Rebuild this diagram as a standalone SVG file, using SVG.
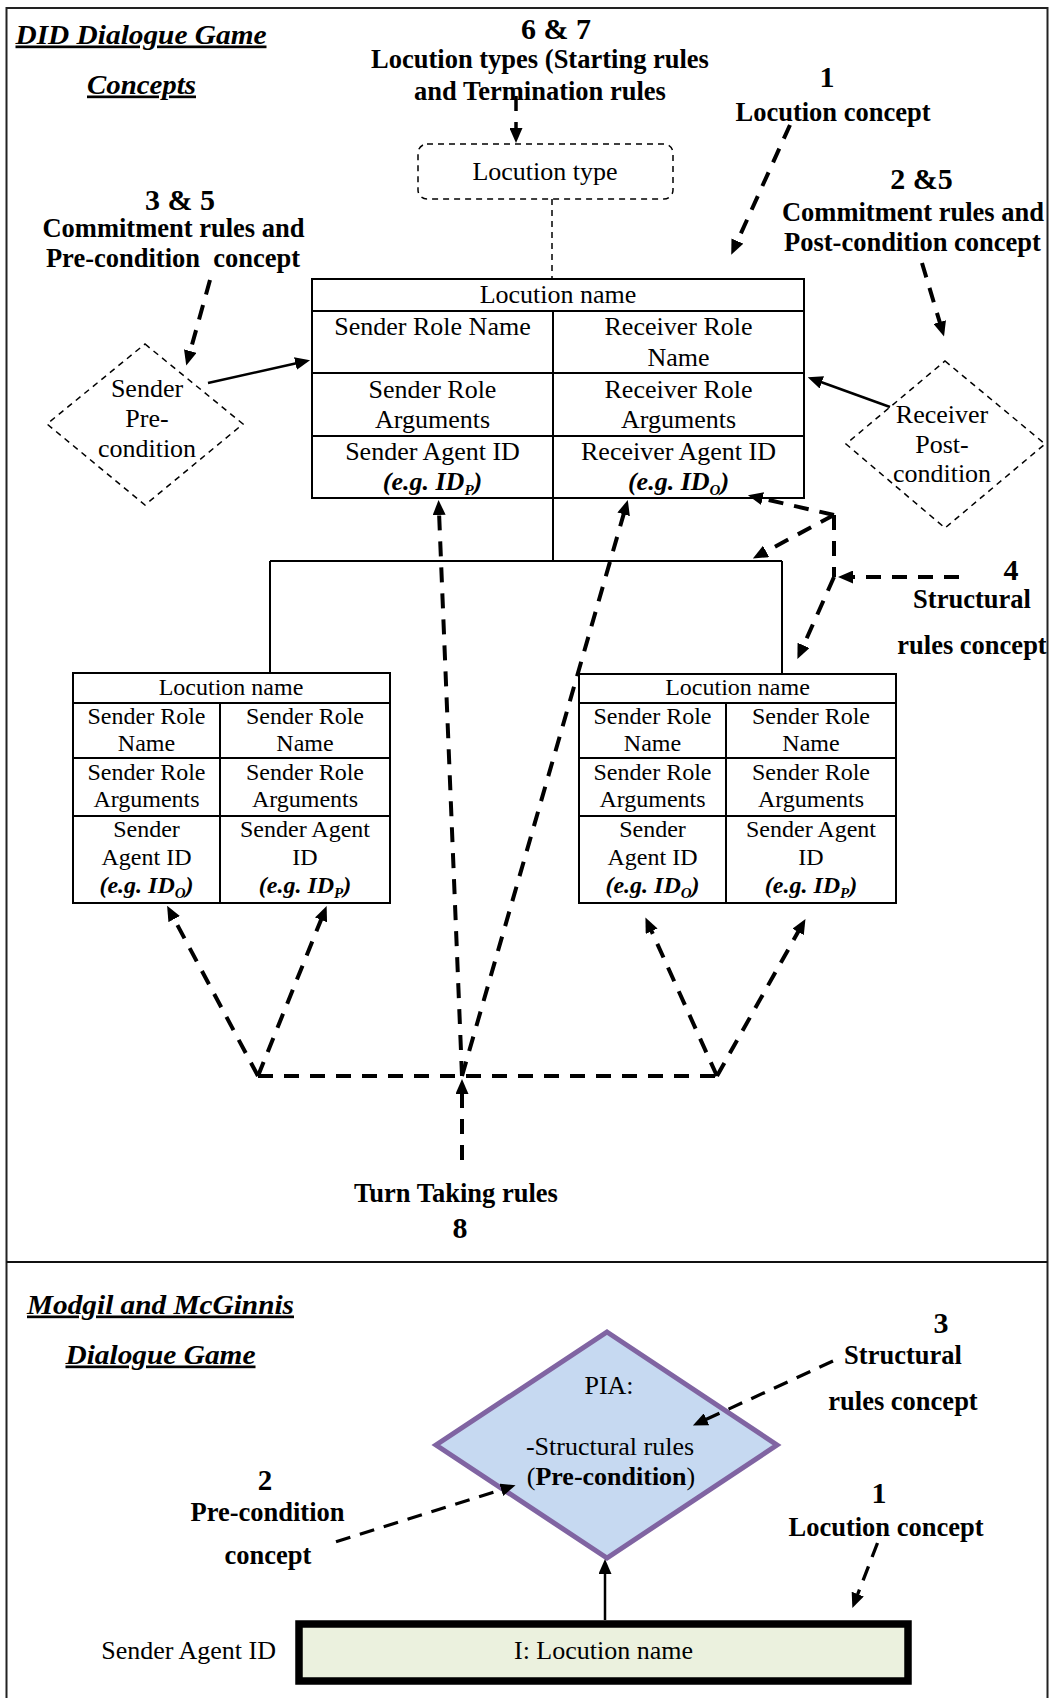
<svg xmlns="http://www.w3.org/2000/svg" width="1049" height="1698" viewBox="0 0 1049 1698">
<defs>
<marker id="ah" markerUnits="userSpaceOnUse" markerWidth="15" markerHeight="13" viewBox="0 0 15 13" refX="1" refY="6.5" orient="auto"><path d="M0,0 L15,6.5 L0,13 z" fill="#000"/></marker>
<style>
text{font-family:"Liberation Serif","Times New Roman",serif;fill:#000}
.lbl{font-size:26.5px;font-weight:bold;text-anchor:middle}
.num{font-size:30px;font-weight:bold;text-anchor:middle}
.ttl{font-size:27px;font-weight:bold;font-style:italic;text-decoration:underline}
.c{font-size:26px;text-anchor:middle}
.s{font-size:24px;text-anchor:middle}
.eg{font-weight:bold;font-style:italic}
.sub{font-size:15px}
.tbl{fill:#fff;stroke:#000;stroke-width:2}
.ln{stroke:#000;stroke-width:2;fill:none}
.thin{stroke:#000;stroke-width:1.5;fill:none;stroke-dasharray:6 5}
.dash{stroke:#000;stroke-width:4;fill:none;stroke-dasharray:15 11;marker-end:url(#ah)}
.dashn{stroke:#000;stroke-width:4;fill:none;stroke-dasharray:15 11}
.dash3{stroke:#000;stroke-width:3.3;fill:none;stroke-dasharray:15 10;marker-end:url(#ah)}
.sol{stroke:#000;stroke-width:2.5;fill:none;marker-end:url(#ah)}
</style>
</defs>
<rect width="1049" height="1698" fill="#fff"/>
<g id="frame">
<rect x="6.5" y="8" width="1041" height="1696" fill="none" stroke="#222" stroke-width="2"/>
<line x1="6.5" y1="1262" x2="1047.5" y2="1262" stroke="#111" stroke-width="2"/>
</g>
<g id="titles">
<text class="ttl" x="15.5" y="43.5" textLength="251" lengthAdjust="spacingAndGlyphs">DID Dialogue Game</text>
<text class="ttl" x="87" y="93.5" textLength="109" lengthAdjust="spacingAndGlyphs">Concepts</text>
<text class="ttl" x="27" y="1313.5" textLength="267" lengthAdjust="spacingAndGlyphs">Modgil and McGinnis</text>
<text class="ttl" x="65.5" y="1363.5" textLength="190" lengthAdjust="spacingAndGlyphs">Dialogue Game</text>
</g>
<g id="label-67">
<text class="num" x="556" y="39">6 &amp; 7</text>
<text class="lbl" x="540" y="68">Locution types (Starting rules</text>
<text class="lbl" x="540" y="100">and Termination rules</text>
</g>
<g id="label-1-top">
<text class="num" x="827" y="87">1</text>
<text class="lbl" x="833" y="121">Locution concept</text>
</g>
<g id="label-35">
<text class="num" x="180" y="210">3 &amp; 5</text>
<text class="lbl" x="173.5" y="237">Commitment rules and</text>
<text class="lbl" x="173" y="267" style="white-space:pre">Pre-condition  concept</text>
</g>
<g id="label-25">
<text class="num" x="921.5" y="189">2 &amp;5</text>
<text class="lbl" x="913" y="221">Commitment rules and</text>
<text class="lbl" x="912.5" y="251">Post-condition concept</text>
</g>
<g id="label-4">
<text class="num" x="1011" y="580">4</text>
<text class="lbl" x="972" y="608">Structural</text>
<text class="lbl" x="972" y="654">rules concept</text>
</g>
<g id="label-8">
<text class="lbl" x="456" y="1202">Turn Taking rules</text>
<text class="num" x="460" y="1238">8</text>
</g>
<g id="locution-type">
<rect x="418" y="144" width="255" height="55" rx="9" class="thin"/>
<text class="c" x="545" y="180">Locution type</text>
</g>
<g id="sender-precondition">
<polygon points="145,344 243,424 145,505 47,424" class="thin"/>
<text class="c" x="147" y="397">Sender</text>
<text class="c" x="147" y="427">Pre-</text>
<text class="c" x="147" y="457">condition</text>
</g>
<g id="receiver-postcondition">
<polygon points="945,361 1045,444 945,528 846,444" class="thin"/>
<text class="c" x="942" y="423">Receiver</text>
<text class="c" x="942" y="453">Post-</text>
<text class="c" x="942" y="482">condition</text>
</g>
<g id="main-locution">
<rect x="312" y="279" width="492" height="219" class="tbl"/>
<line x1="312" y1="311" x2="804" y2="311" class="ln"/>
<line x1="312" y1="373" x2="804" y2="373" class="ln"/>
<line x1="312" y1="436" x2="804" y2="436" class="ln"/>
<line x1="553" y1="311" x2="553" y2="498" class="ln"/>
<text class="c" x="558" y="303">Locution name</text>
<text class="c" x="432.5" y="335">Sender Role Name</text>
<text class="c" x="678.5" y="335">Receiver Role</text>
<text class="c" x="678.5" y="366">Name</text>
<text class="c" x="432.5" y="398">Sender Role</text>
<text class="c" x="432.5" y="428">Arguments</text>
<text class="c" x="678.5" y="398">Receiver Role</text>
<text class="c" x="678.5" y="428">Arguments</text>
<text class="c" x="432.5" y="460">Sender Agent ID</text>
<text class="c eg" x="432.5" y="490">(e.g. ID<tspan class="sub" dy="5">P</tspan><tspan dy="-5">)</tspan></text>
<text class="c" x="678.5" y="460">Receiver Agent ID</text>
<text class="c eg" x="678.5" y="490">(e.g. ID<tspan class="sub" dy="5">O</tspan><tspan dy="-5">)</tspan></text>
</g>
<g id="left-locution">
<rect x="73" y="673" width="317" height="230" class="tbl"/>
<line x1="73" y1="703" x2="390" y2="703" class="ln"/>
<line x1="73" y1="758" x2="390" y2="758" class="ln"/>
<line x1="73" y1="816" x2="390" y2="816" class="ln"/>
<line x1="220" y1="703" x2="220" y2="903" class="ln"/>
<text class="s" x="231" y="695">Locution name</text>
<text class="s" x="146.5" y="724">Sender Role</text>
<text class="s" x="146.5" y="751">Name</text>
<text class="s" x="146.5" y="780">Sender Role</text>
<text class="s" x="146.5" y="807">Arguments</text>
<text class="s" x="146.5" y="837">Sender</text>
<text class="s" x="146.5" y="865">Agent ID</text>
<text class="s eg" x="146.5" y="893">(e.g. ID<tspan class="sub" dy="5">O</tspan><tspan dy="-5">)</tspan></text>
<text class="s" x="305" y="724">Sender Role</text>
<text class="s" x="305" y="751">Name</text>
<text class="s" x="305" y="780">Sender Role</text>
<text class="s" x="305" y="807">Arguments</text>
<text class="s" x="305" y="837">Sender Agent</text>
<text class="s" x="305" y="865">ID</text>
<text class="s eg" x="305" y="893">(e.g. ID<tspan class="sub" dy="5">P</tspan><tspan dy="-5">)</tspan></text>
</g>
<g id="right-locution">
<rect x="579" y="674" width="317" height="229" class="tbl"/>
<line x1="579" y1="703" x2="896" y2="703" class="ln"/>
<line x1="579" y1="758" x2="896" y2="758" class="ln"/>
<line x1="579" y1="816" x2="896" y2="816" class="ln"/>
<line x1="726" y1="703" x2="726" y2="903" class="ln"/>
<text class="s" x="737.5" y="695">Locution name</text>
<text class="s" x="652.5" y="724">Sender Role</text>
<text class="s" x="652.5" y="751">Name</text>
<text class="s" x="652.5" y="780">Sender Role</text>
<text class="s" x="652.5" y="807">Arguments</text>
<text class="s" x="652.5" y="837">Sender</text>
<text class="s" x="652.5" y="865">Agent ID</text>
<text class="s eg" x="652.5" y="893">(e.g. ID<tspan class="sub" dy="5">O</tspan><tspan dy="-5">)</tspan></text>
<text class="s" x="811" y="724">Sender Role</text>
<text class="s" x="811" y="751">Name</text>
<text class="s" x="811" y="780">Sender Role</text>
<text class="s" x="811" y="807">Arguments</text>
<text class="s" x="811" y="837">Sender Agent</text>
<text class="s" x="811" y="865">ID</text>
<text class="s eg" x="811" y="893">(e.g. ID<tspan class="sub" dy="5">P</tspan><tspan dy="-5">)</tspan></text>
</g>
<g id="pia">
<polygon points="607,1332 777,1445 607,1558 436,1445" fill="#c6d9f1" stroke="#8064a2" stroke-width="5"/>
<text class="c" x="609" y="1394" fill="#262626">PIA:</text>
<text class="c" x="610" y="1455" fill="#111">-Structural rules</text>
<text class="c" x="611" y="1485" fill="#111">(<tspan font-weight="bold">Pre-condition</tspan>)</text>
</g>
<g id="locution-box">
<rect x="299" y="1624" width="609" height="57" fill="#ebf1de" stroke="#000" stroke-width="7.5"/>
<text class="c" x="603.5" y="1659">I: Locution name</text>
</g>
<g id="sender-agent-id">
<text class="c" x="188.6" y="1658.5">Sender Agent ID</text>
</g>
<g id="bottom-labels">
<text class="num" x="941" y="1333">3</text>
<text class="lbl" x="903" y="1364">Structural</text>
<text class="lbl" x="903" y="1410">rules concept</text>
<text class="num" x="879" y="1503">1</text>
<text class="lbl" x="886" y="1536">Locution concept</text>
<text class="num" x="265" y="1490" style="font-size:29px">2</text>
<text class="lbl" x="267.5" y="1521">Pre-condition</text>
<text class="lbl" x="268" y="1564">concept</text>
</g>
<g id="connectors">
<line x1="552" y1="199" x2="552" y2="279" class="thin"/>
<path d="M553,498 V561 M270,561 H782 M270,561 V673 M782,561 V674" class="ln"/>
<line x1="516" y1="96" x2="516" y2="129" class="dash" style="stroke-width:3.5"/>
<line x1="210" y1="280" x2="190" y2="352" class="dash"/>
<line x1="790" y1="125" x2="737" y2="242" class="dash"/>
<line x1="922" y1="263" x2="940" y2="323" class="dash"/>
<line x1="834" y1="515" x2="761.6" y2="498.4" class="dash"/>
<line x1="834" y1="515" x2="765.2" y2="551.9" class="dash"/>
<line x1="834" y1="515" x2="834" y2="577" class="dashn"/>
<line x1="834" y1="577" x2="803.1" y2="646.3" class="dash"/>
<line x1="959" y1="577" x2="852" y2="577" class="dash"/>
<line x1="258" y1="1076" x2="717" y2="1076" class="dashn"/>
<line x1="462" y1="1160" x2="462" y2="1093" class="dash"/>
<line x1="462" y1="1076" x2="439.1" y2="514" class="dash"/>
<line x1="462" y1="1076" x2="623.9" y2="513.4" class="dash"/>
<line x1="258" y1="1076" x2="173.7" y2="918.2" class="dash"/>
<line x1="258" y1="1076" x2="321.4" y2="918.9" class="dash"/>
<line x1="717" y1="1076" x2="651.2" y2="930.3" class="dash"/>
<line x1="717" y1="1076" x2="798.6" y2="931.1" class="dash"/>
<line x1="208" y1="383" x2="296.4" y2="363.3" class="sol"/>
<line x1="890" y1="407" x2="820.9" y2="382" class="sol"/>
<line x1="605" y1="1620" x2="605" y2="1573" class="sol"/>
<line x1="833" y1="1361" x2="705.6" y2="1419.7" class="dash3"/>
<line x1="877.5" y1="1543" x2="857.4" y2="1595" class="dash3"/>
<line x1="336" y1="1541.7" x2="502.2" y2="1489.5" class="dash3"/>
</g>
</svg>
